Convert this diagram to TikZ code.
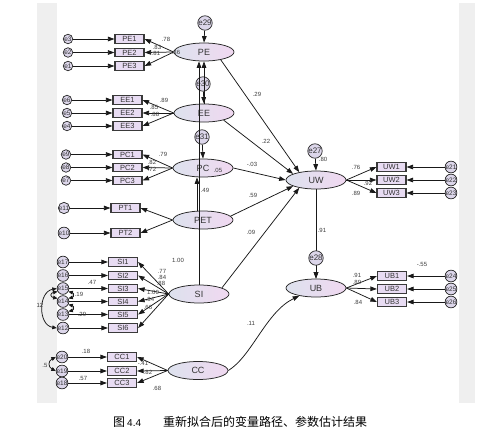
\documentclass[tikz,border=0pt]{standalone}
\usepackage{fontspec}
\setmainfont{Liberation Sans}
\newfontfamily\cjk{Noto Sans CJK SC}
\usetikzlibrary{arrows.meta,shapes.geometric}
\definecolor{bgG}{HTML}{EFEFEF}
\definecolor{latL}{HTML}{DDE2EE}
\definecolor{latR}{HTML}{F0D8F0}
\definecolor{boxF}{HTML}{E8DCF3}
\definecolor{boxD}{HTML}{3A3A3A}
\definecolor{errF}{HTML}{DCD6EA}
\definecolor{txt}{HTML}{333333}
\definecolor{lblC}{HTML}{3C3C3C}
\begin{document}
\begin{tikzpicture}[x=1pt,y=-1pt,
  lat/.style={ellipse, draw=black!85, line width=0.75pt, left color=latL, right color=latR,
    minimum width=60pt, minimum height=18pt, inner sep=0pt, font=\fontsize{9}{9}\selectfont, text=txt},
  obs/.style={rectangle, draw=boxD, line width=1.2pt, fill=boxF, minimum width=29pt,
    minimum height=8.5pt, inner sep=0pt, font=\fontsize{7.5}{7.5}\selectfont, text=txt},
  err/.style={circle, draw=black!85, line width=0.7pt, fill=errF, minimum size=9.5pt,
    inner sep=0pt, font=\fontsize{6.5}{6.5}\selectfont, text=txt},
  errB/.style={err, minimum size=14pt, font=\fontsize{8}{8}\selectfont},
  lbl/.style={font=\fontsize{6}{6}\selectfont, text=lblC, inner sep=0pt},
  arr/.style={-{Triangle[length=6.5pt,width=4.6pt]}, line width=0.75pt, draw=black!90},
  biarr/.style={{Triangle[length=4.5pt,width=3.8pt]}-{Triangle[length=4.5pt,width=3.8pt]}, line width=0.75pt, draw=black!90}
]
\useasboundingbox (0,0) rectangle (488,442);
\fill[bgG] (37,3) rectangle (475,403);
\fill[white] (57,3) rectangle (459,403);

% latent variables
\node[lat] (PE) at (204,52) {PE};
\node[lat] (EE) at (204,113) {EE};
\node[lat] (PC) at (203,168) {PC};
\node[lat] (PET) at (203,220) {PET};
\node[lat] (SI) at (199,294) {SI};
\node[lat] (CC) at (198,370.5) {CC};
\node[lat] (UW) at (316,180) {UW};
\node[lat] (UB) at (316,288) {UB};

% big error circles
\node[errB] (e29) at (205,23) {e29};
\node[errB] (e30) at (203,84) {e30};
\node[errB] (e31) at (202,137) {e31};
\node[errB] (e27) at (315,151) {e27};

% PE indicators
\foreach \n/\y/\e in {1/39/e3,2/52.5/e2,3/66/e1}{
  \node[obs] (PE\n) at (129.5,\y) {PE\n};
  \node[err] (ePE\n) at (68,\y) {\e};
  \draw[arr] (ePE\n) -- (PE\n);
  \draw[arr] (PE.west) -- (PE\n.east);
}
% EE indicators
\foreach \n/\y/\e in {1/100/e6,2/113/e5,3/126/e4}{
  \node[obs] (EE\n) at (127.5,\y) {EE\n};
  \node[err] (eEE\n) at (67,\y) {\e};
  \draw[arr] (eEE\n) -- (EE\n);
  \draw[arr] (EE.west) -- (EE\n.east);
}
% PC indicators
\foreach \n/\y/\e in {1/154.5/e9,2/167.5/e8,3/180.5/e7}{
  \node[obs] (PC\n) at (127.5,\y) {PC\n};
  \node[err] (ePC\n) at (66,\y) {\e};
  \draw[arr] (ePC\n) -- (PC\n);
  \draw[arr] (PC.west) -- (PC\n.east);
}
% PET indicators
\foreach \n/\y/\e in {1/208/e11,2/233/e10}{
  \node[obs] (PT\n) at (125.5,\y) {PT\n};
  \node[err] (ePT\n) at (64,\y) {\e};
  \draw[arr] (ePT\n) -- (PT\n);
  \draw[arr] (PET.west) -- (PT\n.east);
}
% SI indicators
\foreach \n/\y/\e in {1/262/e17,2/275.5/e16,3/288.5/e15,4/301.5/e14,5/314.5/e13,6/328/e12}{
  \node[obs] (SI\n) at (123,\y) {SI\n};
  \node[err] (eSI\n) at (63,\y) {\e};
  \draw[arr] (eSI\n) -- (SI\n);
  \draw[arr] (SI.west) -- (SI\n.east);
}
% CC indicators
\foreach \n/\y/\e in {1/357/e20,2/371/e19,3/383/e18}{
  \node[obs] (CC\n) at (122,\y) {CC\n};
  \node[err] (eCC\n) at (62,\y) {\e};
  \draw[arr] (eCC\n) -- (CC\n);
  \draw[arr] (CC.west) -- (CC\n.east);
}
% UW indicators
\foreach \n/\y/\e in {1/167/e21,2/180/e22,3/193/e23}{
  \node[obs] (UW\n) at (391.5,\y) {UW\n};
  \node[err] (eUW\n) at (451,\y) {\e};
  \draw[arr] (eUW\n) -- (UW\n);
  \draw[arr] (UW.east) -- (UW\n.west);
}
% UB indicators
\foreach \n/\y/\e in {1/276/e24,2/289/e25,3/302/e26}{
  \node[obs] (UB\n) at (392,\y) {UB\n};
  \node[err] (eUB\n) at (451,\y) {\e};
  \draw[arr] (eUB\n) -- (UB\n);
  \draw[arr] (UB.east) -- (UB\n.west);
}

% covariances
\draw[biarr] (eSI3.west) .. controls (38,292) and (38,325) .. (eSI6.west);
\draw[biarr] (eSI3.210) .. controls (50,293) and (50,297) .. (eSI4.150);
\draw[biarr] (eSI3.-30) .. controls (74,293) and (74,297) .. (eSI4.30);
\draw[biarr] (eSI4.-30) .. controls (74,306) and (74,310) .. (eSI5.30);
\draw[biarr] (eCC1.west) .. controls (48,361) and (48,367) .. (eCC2.west);

% structural paths
\draw[arr] (e29) -- (PE.north);
\draw[arr] (SI.north) -- (SI.north |- PE.south);
\draw[arr] (EE.north) -- (PE.south);
\draw[arr] (e30) -- (EE.north);
\draw[arr] (e31) -- (PC.north);
\draw[arr] ([xshift=-6pt]PET.north) -- ([xshift=-6pt]PC.south);
\draw[arr] (PE.-25) -- (UW.155);
\draw[arr] (EE.-20) -- (UW.165);
\draw[arr] (PC.east) -- (UW.west);
\draw[arr] (PET.8) -- (UW.195);
\draw[arr] (SI.15) -- (UW.205);
\draw[arr] (e27) -- (UW.north);
\draw[arr] (UW.south) -- (UB.north);
\node[errB] (e28) at (316,258) {e28};
\draw[arr] (e28) -- (UB.north);
\draw[arr] (CC.east) .. controls (252,356) and (266,312) .. (UB.205);

% coefficient labels
\node[lbl] at (166,39) {.78};
\node[lbl] at (157,47) {.83};
\node[lbl] at (156,53) {.81};
\node[lbl] at (176,52) {.36};
\node[lbl] at (164,100) {.89};
\node[lbl] at (154,107) {.85};
\node[lbl] at (155,114) {.88};
\node[lbl] at (163,154) {.79};
\node[lbl] at (152,162) {.82};
\node[lbl] at (152,169) {.72};
\node[lbl] at (218,170) {.05};
\node[lbl] at (162,271) {.77};
\node[lbl] at (162,277) {.84};
\node[lbl] at (161,283) {.88};
\node[lbl] at (153,292) {1.00};
\node[lbl] at (150,299) {.84};
\node[lbl] at (148,307) {.66};
\node[lbl] at (143,363) {-.41};
\node[lbl] at (148,372) {.82};
\node[lbl] at (157,388) {.68};
\node[lbl] at (86,351) {.18};
\node[lbl] at (83,378) {.57};
\node[lbl] at (45,365) {.5};
\node[lbl] at (92,282) {.47};
\node[lbl] at (79,294) {.19};
\node[lbl] at (82,314) {.29};
\node[lbl] at (40,305) {12};
\node[lbl] at (178,260) {1.00};
\node[lbl] at (205,190) {.49};
\node[lbl] at (257,94) {.29};
\node[lbl] at (266,141) {.22};
\node[lbl] at (252,164) {-.03};
\node[lbl] at (253,195) {.59};
\node[lbl] at (251,232) {.09};
\node[lbl] at (251,323) {.11};
\node[lbl] at (323,159) {.80};
\node[lbl] at (322,230) {.91};
\node[lbl] at (356,167) {.76};
\node[lbl] at (368,183) {.92};
\node[lbl] at (356,193) {.89};
\node[lbl] at (357,275) {.91};
\node[lbl] at (357,282) {.89};
\node[lbl] at (358,302) {.84};
\node[lbl] at (422,264) {-.55};

% caption
\node[anchor=west, inner sep=0pt, font=\cjk\fontsize{12}{12}\selectfont] (capA) at (113,422) {图\,{\rmfamily\fontsize{10}{10}\selectfont 4.4}};
\node[anchor=west, inner sep=0pt, font=\cjk\fontsize{12}{12}\selectfont] (capB) at (163,422) {重新拟合后的变量路径、参数估计结果};
\end{tikzpicture}
\end{document}
